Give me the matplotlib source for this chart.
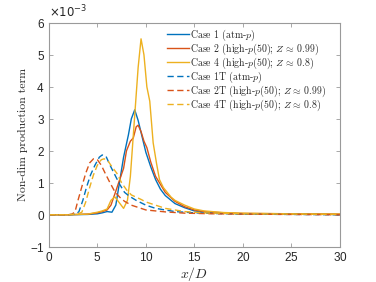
import numpy as np
import matplotlib
matplotlib.use("Agg")
import matplotlib.pyplot as plt
from matplotlib.ticker import ScalarFormatter

plt.rcParams['mathtext.fontset'] = 'cm'
plt.rcParams['axes.formatter.use_mathtext'] = True

# values in units of 1e-3
x_c1 = [0, 2, 4, 5, 5.5, 6.0, 6.5, 6.9, 7.3, 7.7, 8.2, 8.5, 8.85, 9.2, 9.6, 10.0, 10.5, 11.0, 11.5, 12.0, 13.0, 14.0, 15.0, 16.0, 17.0, 20.0, 25.0, 30.0]
y_c1 = [0, 0, 0.01, 0.03, 0.06, 0.1, 0.08, 0.3, 1.05, 1.8, 2.5, 3.0, 3.28, 2.95, 2.45, 1.95, 1.5, 1.1, 0.8, 0.6, 0.35, 0.22, 0.12, 0.08, 0.06, 0.03, 0.02, 0.01]

x_c2 = [0, 2, 4, 5, 5.5, 6.0, 6.4, 6.8, 7.3, 7.7, 8.0, 8.4, 8.7, 9.0, 9.2, 9.5, 9.8, 10.1, 10.5, 11.0, 11.5, 12.0, 13.0, 14.0, 15.0, 16.0, 18.0, 20.0, 25.0, 30.0]
y_c2 = [0, 0, 0.02, 0.06, 0.1, 0.15, 0.3, 0.65, 1.1, 1.45, 2.0, 2.3, 2.4, 2.75, 2.8, 2.6, 2.3, 2.1, 1.65, 1.2, 0.95, 0.7, 0.42, 0.25, 0.15, 0.1, 0.06, 0.04, 0.03, 0.02]

x_c4 = [0, 2, 4, 5, 5.5, 6.0, 6.4, 6.8, 7.2, 7.7, 8.1, 8.4, 8.8, 9.2, 9.5, 9.8, 10.1, 10.4, 10.75, 11.1, 11.4, 11.8, 12.2, 12.6, 13.0, 14.0, 15.0, 16.0, 18.0, 20.0, 25.0, 30.0]
y_c4 = [0, 0, 0.02, 0.08, 0.12, 0.18, 0.45, 0.56, 0.4, 0.2, 0.45, 1.2, 2.9, 4.6, 5.5, 5.0, 4.0, 3.55, 2.25, 1.6, 1.1, 0.85, 0.7, 0.55, 0.45, 0.3, 0.18, 0.12, 0.07, 0.05, 0.03, 0.02]

x_c1t = [0, 2, 2.8, 3.1, 3.5, 3.9, 4.3, 4.75, 5.2, 5.5, 5.9, 6.3, 6.8, 7.3, 7.8, 8.3, 9.0, 10.0, 11.0, 12.0, 13.0, 15.0, 17.0, 20.0, 25.0, 30.0]
y_c1t = [0, 0, 0.02, 0.1, 0.45, 0.88, 1.25, 1.55, 1.8, 1.87, 1.82, 1.55, 1.25, 0.95, 0.7, 0.58, 0.45, 0.3, 0.2, 0.15, 0.1, 0.06, 0.04, 0.02, 0.01, 0.0]

x_c2t = [0, 2, 2.4, 2.7, 3.0, 3.4, 3.8, 4.2, 4.6, 5.0, 5.4, 5.8, 6.3, 6.8, 7.3, 7.8, 8.5, 9.0, 10.0, 11.0, 12.0, 14.0, 17.0, 20.0, 25.0, 30.0]
y_c2t = [0, 0, 0.02, 0.1, 0.45, 0.88, 1.3, 1.62, 1.75, 1.72, 1.55, 1.3, 1.0, 0.72, 0.55, 0.42, 0.3, 0.25, 0.15, 0.12, 0.09, 0.05, 0.03, 0.02, 0.01, 0.0]

x_c4t = [0, 2, 3.0, 3.4, 3.8, 4.2, 4.6, 5.0, 5.4, 5.7, 6.1, 6.5, 7.0, 7.5, 8.0, 8.5, 9.0, 9.5, 10.0, 11.0, 12.0, 13.0, 14.0, 16.0, 20.0, 25.0, 30.0]
y_c4t = [0, 0, 0.03, 0.08, 0.4, 0.85, 1.25, 1.55, 1.72, 1.75, 1.68, 1.5, 1.3, 1.0, 0.78, 0.62, 0.55, 0.48, 0.4, 0.3, 0.2, 0.15, 0.1, 0.06, 0.03, 0.02, 0.01]

labels = [r'Case 1 (atm-$p$)',
          r'Case 2 (high-$p$(50); $Z\,\approx\,0.99$)',
          r'Case 4 (high-$p$(50); $Z\,\approx\,0.8$)',
          r'Case 1T (atm-$p$)',
          r'Case 2T (high-$p$(50); $Z\,\approx\,0.99$)',
          r'Case 4T (high-$p$(50); $Z\,\approx\,0.8$)']

blue, red, yel = '#0072BD', '#D95319', '#EDB120'

fig = plt.figure(figsize=(3.76, 2.82), dpi=100)
ax = fig.add_axes([0.130, 0.125, 0.774, 0.794])

sc = 1e-3
dash = (0, (4.5, 2.5))
ax.plot(np.array(x_c1), np.array(y_c1) * sc, color=blue, lw=1.0, label=labels[0])
ax.plot(np.array(x_c2), np.array(y_c2) * sc, color=red, lw=1.0, label=labels[1])
ax.plot(np.array(x_c4), np.array(y_c4) * sc, color=yel, lw=1.0, label=labels[2])
ax.plot(np.array(x_c1t), np.array(y_c1t) * sc, color=blue, lw=1.0, ls=dash, label=labels[3])
ax.plot(np.array(x_c2t), np.array(y_c2t) * sc, color=red, lw=1.0, ls=dash, label=labels[4])
ax.plot(np.array(x_c4t), np.array(y_c4t) * sc, color=yel, lw=1.0, ls=dash, label=labels[5])

ax.set_xlim(0, 30)
ax.set_ylim(-1e-3, 6e-3)
ax.set_xticks([0, 5, 10, 15, 20, 25, 30])
ax.set_yticks(np.arange(-1, 7) * 1e-3)
fmt = ScalarFormatter(useMathText=True)
fmt.set_powerlimits((-2, 2))
ax.yaxis.set_major_formatter(fmt)
ax.yaxis.get_offset_text().set_visible(False)

tickcol = '#262626'
for s in ax.spines.values():
    s.set_color('#9a9a9a')
    s.set_linewidth(0.8)
ax.tick_params(direction='in', top=True, right=True, length=3, width=0.6,
               color='#9a9a9a', labelcolor=tickcol, labelsize=8.5, pad=3)
for lab in ax.get_xticklabels() + ax.get_yticklabels():
    lab.set_family('Liberation Sans')

ax.text(0.002, 1.012, r'$\times10^{-3}$', transform=ax.transAxes, ha='left', va='bottom',
        fontsize=8.5, color=tickcol, family='Liberation Sans',
        math_fontfamily='dejavusans')

ax.set_xlabel(r'$x/D$', fontsize=10, color=tickcol, labelpad=1)
ax.set_ylabel('Non-dim production term', fontsize=8.5, family='cmr10', color=tickcol, labelpad=1)

leg = ax.legend(loc='upper right', frameon=False,
                prop={'family': 'cmr10', 'size': 7.1},
                handlelength=2.23, handletextpad=0.15, labelspacing=-0.13,
                borderaxespad=0.0, borderpad=0.0, bbox_to_anchor=(0.954, 0.978))
for t in leg.get_texts():
    t.set_color(tickcol)

fig.savefig('out.png', dpi=100)
